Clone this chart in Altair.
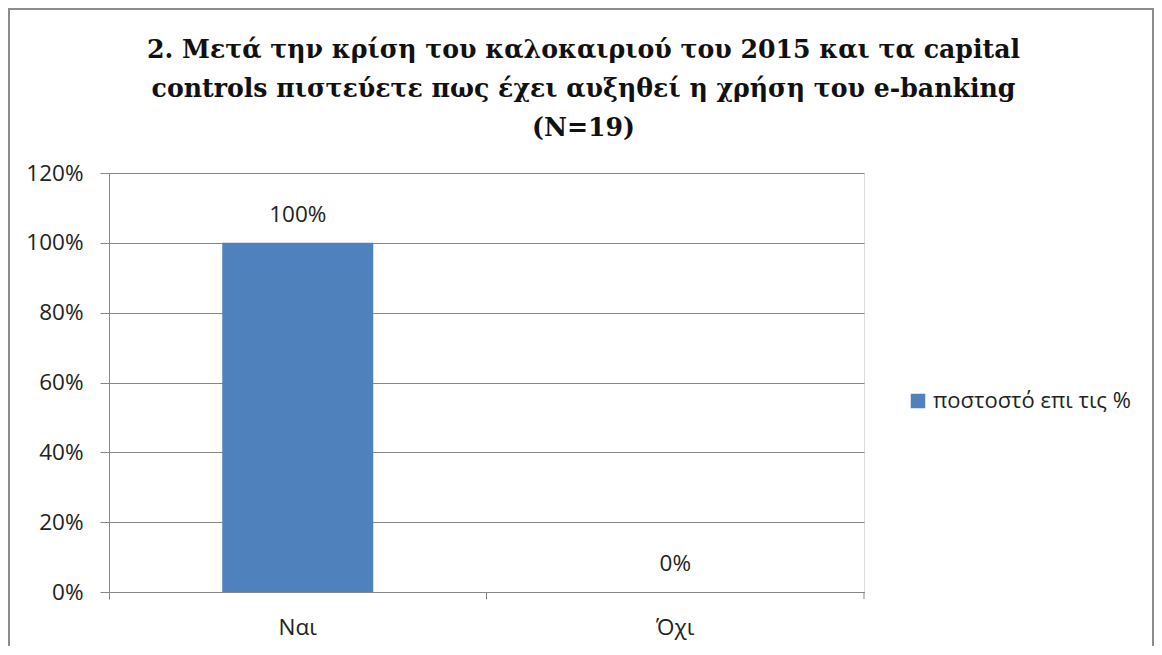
import altair as alt
import pandas as pd

categories = ["Ναι", "Όχι"]
values = [1.0, 0.0]
labels = ["100%", "0%"]
series_name = "ποστοστό επι τις %"
title_lines = [
    "2. Μετά την κρίση του καλοκαιριού του 2015 και τα capital",
    "controls  πιστεύετε πως έχει αυξηθεί η χρήση του e-banking",
    "(N=19)",
]
y_ticks = [0, 0.2, 0.4, 0.6, 0.8, 1.0, 1.2]

df = pd.DataFrame({"cat": categories, "val": values, "lab": labels, "series": series_name})

W, H = 755, 419
PL, PT, PR, PB = 101, 165, 290, 54
LABEL_FONT = "Open Sans"
FS = 22.5

x_enc = alt.X("cat:N", sort=categories, title=None,
              scale=alt.Scale(paddingInner=0, paddingOuter=0),
              axis=alt.Axis(bandPosition=0, labelAngle=0, labelFont=LABEL_FONT, labelFontSize=FS,
                            labelColor="#222", labelPadding=17, tickSize=7, tickColor="#868686",
                            domainColor="#868686", grid=False))
y_enc = alt.Y("val:Q", title=None,
              scale=alt.Scale(domain=[0, 1.2], nice=False),
              axis=alt.Axis(values=y_ticks, format=".0%", labelFont=LABEL_FONT, labelFontSize=FS,
                            labelColor="#222", labelPadding=17, tickSize=9, tickColor="#868686",
                            domainColor="#868686", gridColor="#868686", gridOpacity=1))

bars = alt.Chart(df).mark_bar(width=alt.RelativeBandSize(0.4)).encode(
    x=x_enc, y=y_enc,
    color=alt.Color("series:N", title=None,
                    scale=alt.Scale(range=["#4F81BD"]),
                    legend=alt.Legend(orient="none", legendX=798, legendY=217, symbolType="square",
                                      symbolSize=210, symbolStrokeWidth=0, labelFont=LABEL_FONT,
                                      labelFontSize=22, labelColor="#222", labelOffset=4,
                                      labelLimit=400)),
)

text = alt.Chart(df).mark_text(font=LABEL_FONT, fontSize=FS, color="#222", baseline="middle", dy=-28).encode(
    x=alt.X("cat:N", sort=categories), y="val:Q", text="lab:N"
)

end_tick = alt.Chart(df.head(1)).mark_rule(color="#868686").encode(
    x=alt.value(W), y=alt.value(H), y2=alt.value(H + 7)
)

frame = alt.Chart(df.head(1)).mark_rect(fill=None, stroke="#8c8c8c", strokeWidth=2, clip=False).encode(
    x=alt.value(-PL + 1), x2=alt.value(W + PR - 1), y=alt.value(-PT + 1), y2=alt.value(H + PB + 40)
)

chart = alt.layer(frame, bars, text, end_tick).properties(
    width=W, height=H,
    padding={"left": PL, "top": PT, "right": PR, "bottom": PB},
    autosize=alt.AutoSizeParams(type="none"),
    title=alt.TitleParams(text=title_lines, font="DejaVu Serif", fontSize=25.2, fontWeight="bold",
                          color="#111", anchor="middle", frame="group", baseline="bottom", lineHeight=39,
                          offset=-158, dx=97),
).configure_view(stroke=None).configure(background="white")

chart.save("out.html", embed_options={"renderer": "svg", "actions": False})
